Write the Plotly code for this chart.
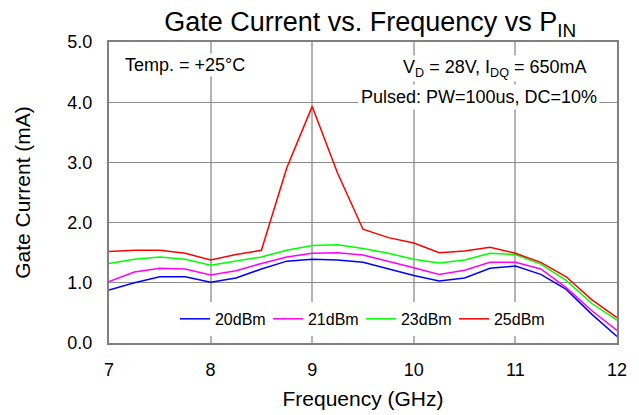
import plotly.graph_objects as go

freq = [7, 7.25, 7.5, 7.75, 8, 8.25, 8.5, 8.75, 9, 9.25, 9.5, 9.75, 10, 10.25, 10.5, 10.75, 11, 11.25, 11.5, 11.75, 12]

ig_20 = [0.88, 1.00, 1.10, 1.10, 1.01, 1.08, 1.23, 1.36, 1.39, 1.38, 1.34, 1.23, 1.12, 1.03, 1.08, 1.24, 1.28, 1.14, 0.89, 0.48, 0.11]
ig_21 = [1.02, 1.18, 1.24, 1.23, 1.13, 1.20, 1.32, 1.43, 1.49, 1.50, 1.46, 1.36, 1.25, 1.14, 1.21, 1.34, 1.34, 1.23, 0.92, 0.54, 0.21]
ig_23 = [1.32, 1.39, 1.43, 1.39, 1.29, 1.36, 1.43, 1.54, 1.62, 1.63, 1.57, 1.49, 1.39, 1.33, 1.38, 1.49, 1.47, 1.31, 1.04, 0.66, 0.38]
ig_25 = [1.52, 1.54, 1.54, 1.49, 1.38, 1.47, 1.54, 2.91, 3.93, 2.82, 1.89, 1.75, 1.66, 1.50, 1.53, 1.59, 1.49, 1.34, 1.10, 0.72, 0.42]

series_names = ["20dBm", "21dBm", "23dBm", "25dBm"]
series_colors = ["#0000ff", "#ff00ff", "#00ff00", "#ff0000"]
series_vals = [ig_20, ig_21, ig_23, ig_25]

fig = go.Figure()
for name, col, vals in zip(series_names, series_colors, series_vals):
    fig.add_trace(go.Scatter(x=freq, y=vals, mode="lines", name=name,
                             line=dict(color=col, width=1.5)))

font_family = "Liberation Sans, Arial, sans-serif"

fig.update_layout(
    width=631, height=407,
    margin=dict(l=101, r=22, t=34, b=72, autoexpand=False),
    paper_bgcolor="white", plot_bgcolor="white",
    font=dict(family=font_family, color="black"),
    title=dict(text="Gate Current vs. Frequency vs P<sub>IN</sub>",
               x=0.574, xanchor="center", y=0.966, yanchor="middle",
               font=dict(size=27, family=font_family, color="black")),
    showlegend=True,
    legend=dict(orientation="h", x=0.496, xanchor="center", y=0.08, yanchor="middle",
                bgcolor="white", font=dict(size=16, family=font_family),
                itemwidth=30, entrywidth=48, tracegroupgap=0),
    xaxis=dict(range=[7, 12], dtick=1, tick0=7, showgrid=True,
               gridcolor="#b4b4b4", gridwidth=1.5,
               showline=True, linecolor="#808080", linewidth=2, mirror=True,
               ticks="", tickfont=dict(size=18), ticklabelstandoff=9,
               title=dict(text="Frequency (GHz)", font=dict(size=21), standoff=13),
               zeroline=False, automargin=False),
    yaxis=dict(range=[0, 5], dtick=1, tick0=0, tickformat=".1f", showgrid=True,
               gridcolor="#8c8c8c", gridwidth=1.2,
               showline=True, linecolor="#808080", linewidth=2, mirror=True,
               ticks="", tickfont=dict(size=18), ticklabelstandoff=11,
               title=dict(text="Gate Current (mA)", font=dict(size=21), standoff=31),
               zeroline=False, automargin=False),
)

fig.add_annotation(x=0.028, y=0.924, xref="paper", yref="paper", xanchor="left", yanchor="middle",
                   text="Temp. = +25°C", showarrow=False, bgcolor="white",
                   font=dict(size=18), borderpad=1)
fig.add_annotation(x=0.943, y=0.912, xref="paper", yref="paper", xanchor="right", yanchor="middle",
                   text="V<sub>D</sub> = 28V, I<sub>DQ</sub> = 650mA", showarrow=False, bgcolor="white",
                   font=dict(size=18), borderpad=1)
fig.add_annotation(x=0.967, y=0.817, xref="paper", yref="paper", xanchor="right", yanchor="middle",
                   text="Pulsed: PW=100us, DC=10%", showarrow=False, bgcolor="white",
                   font=dict(size=18), borderpad=2)

fig.write_html("out.html")
